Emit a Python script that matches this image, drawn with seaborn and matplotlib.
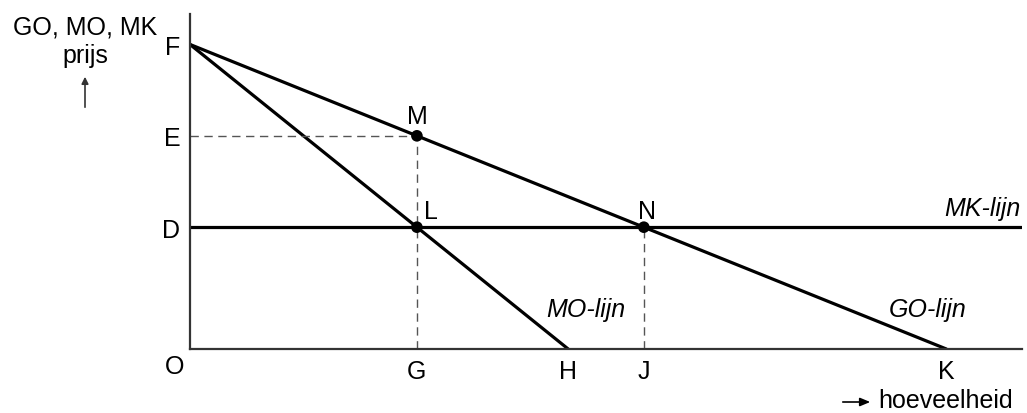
import matplotlib
matplotlib.use("Agg")
import matplotlib.pyplot as plt
import seaborn as sns
import pandas as pd

# Chart data: monopoly diagram (quantity vs price)
go_q = [0, 10]
go_p = [10, 0]
mo_q = [0, 5]
mo_p = [10, 0]
mk_q = [0, 11]
mk_p = [4, 4]

point_names = ["M", "L", "N"]
point_q = [3, 3, 6]
point_p = [7, 4, 4]

x_ticks = [0, 3, 5, 6, 10]
x_labels = ["", "G", "H", "J", "K"]
y_ticks = [10, 7, 4]
y_labels = ["F", "E", "D"]

sns.set_style("white")
plt.rcParams["font.family"] = ["Liberation Sans", "DejaVu Sans"]
plt.rcParams["text.color"] = "black"
plt.rcParams["xtick.color"] = "#333333"
plt.rcParams["ytick.color"] = "#333333"
plt.rcParams["xtick.labelcolor"] = "black"
plt.rcParams["ytick.labelcolor"] = "black"

FS = 18

W, H = 1027, 414
fig = plt.figure(figsize=(W / 100, H / 100), dpi=100)
ax = fig.add_axes([190 / W, 64 / H, 832 / W, 335 / H])

line_w = 2.3
sns.lineplot(x=go_q, y=go_p, color="black", linewidth=line_w, sort=False, ax=ax)
sns.lineplot(x=mo_q, y=mo_p, color="black", linewidth=line_w, sort=False, ax=ax)
sns.lineplot(x=mk_q, y=mk_p, color="black", linewidth=line_w, sort=False, ax=ax)

# dashed helper lines
dash = dict(color="#555555", linewidth=1.0, dashes=(6, 4))
ax.plot([0, point_q[0]], [point_p[0], point_p[0]], **dash)
ax.plot([point_q[0], point_q[0]], [0, point_p[0]], **dash)
ax.plot([point_q[2], point_q[2]], [0, point_p[2]], **dash)

pts = pd.DataFrame({"q": point_q, "p": point_p, "name": point_names})
sns.scatterplot(data=pts, x="q", y="p", color="black", s=70, edgecolor="none",
                zorder=5, ax=ax)

offsets = {"M": (0, 14), "L": (10, 12), "N": (2, 12)}
for name, q, p in zip(point_names, point_q, point_p):
    ax.annotate(name, (q, p), xytext=offsets[name], textcoords="offset points",
                ha="center", va="center", fontsize=FS)

ax.set_xlim(0, 11)
ax.set_ylim(0, 11)
ax.set_xticks(x_ticks)
ax.set_xticklabels(x_labels, fontsize=FS)
ax.set_yticks(y_ticks)
ax.set_yticklabels(y_labels, fontsize=FS)
ax.tick_params(axis="x", direction="inout", length=8, width=1.2, pad=3)
ax.tick_params(axis="y", direction="out", length=5, width=1.2, pad=2)
ax.set_xlabel("")
ax.set_ylabel("")

for side in ["top", "right"]:
    ax.spines[side].set_visible(False)
for side in ["left", "bottom"]:
    ax.spines[side].set_linewidth(1.6)
    ax.spines[side].set_color("#333333")

# line labels
ax.text(5.23, 1.3, "MO-lijn", style="italic", fontsize=FS, ha="center", va="center")
ax.text(9.75, 1.3, "GO-lijn", style="italic", fontsize=FS, ha="center", va="center")
ax.text(10.98, 4.62, "MK-lijn", style="italic", fontsize=FS, ha="right", va="center")
ax.text(-0.2, -0.55, "O", fontsize=FS, ha="center", va="center", clip_on=False)

# axis titles with arrows (figure pixel coordinates)
def fx(px):
    return px / W

def fy(py):
    return 1 - py / H

fig.text(fx(85), fy(27), "GO, MO, MK", fontsize=FS, ha="center", va="center")
fig.text(fx(85), fy(56), "prijs", fontsize=FS, ha="center", va="center")
fig.patches.append(matplotlib.patches.FancyArrowPatch(
    (fx(85), fy(111)), (fx(85), fy(75)), transform=fig.transFigure,
    arrowstyle="-|>,head_length=4,head_width=2", color="#333333", linewidth=1.2,
    mutation_scale=1))
fig.patches.append(matplotlib.patches.FancyArrowPatch(
    (fx(840), fy(403)), (fx(873), fy(403)), transform=fig.transFigure,
    arrowstyle="-|>,head_length=6,head_width=2.5", color="black", linewidth=1.2,
    mutation_scale=1))
fig.text(fx(878), fy(401), "hoeveelheid", fontsize=FS, ha="left", va="center")

fig.savefig("out.png", dpi=100)
